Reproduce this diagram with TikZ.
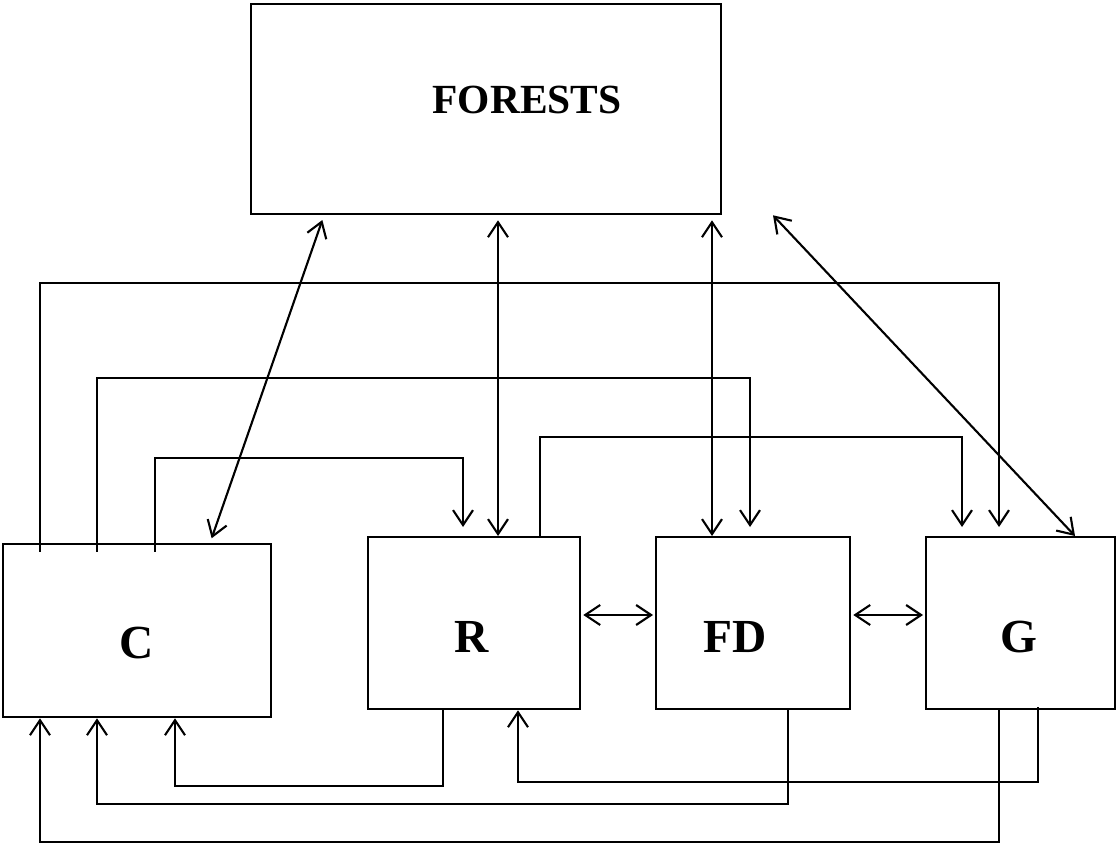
\documentclass[tikz,border=0pt]{standalone}
\usepackage{fontspec}
\setmainfont{Liberation Serif}
\usetikzlibrary{arrows.meta}

\tikzset{
  box/.style 2 args={draw, line width=1.3pt, inner sep=0pt, anchor=north west,
    minimum width=#1*0.02cm, minimum height=#2*0.02cm},
  lbl/.style={font=\fontsize{23.6}{28}\selectfont\bfseries},
  boxlbl/.style={font=\fontsize{27}{32}\selectfont\bfseries},
  link/.style={line width=1.2pt, -{Straight Barb[length=0.3cm, width=0.4cm]}},
  both/.style={line width=1.2pt, {Straight Barb[length=0.3cm, width=0.4cm]}-{Straight Barb[length=0.3cm, width=0.4cm]}}
}

\begin{document}
\begin{tikzpicture}[x=0.02cm, y=-0.02cm]
  \useasboundingbox (0,0) rectangle (1116,844);

  % Draw the boxes
  \node[box={470}{210}] (forests) at (250,3) {};
  \node[box={268}{173}] (c) at (2,543) {};
  \node[box={212}{172}] (r) at (367,536) {};
  \node[box={194}{172}] (fd) at (655,536) {};
  \node[box={189}{172}] (g) at (925,536) {};

  \node[lbl] (forestslabel) at (527,100) {FORESTS};
  \node[boxlbl] (clabel) at (137,643) {C};
  \node[boxlbl] (rlabel) at (472,637) {R};
  \node[boxlbl] (fdlabel) at (735,637) {FD};
  \node[boxlbl] (glabel) at (1019,637) {G};

  % Draw the links from FORESTS
  \draw[both, shorten <=0.1cm, shorten >=0.1cm] (forests.south -| 324,0) -- (c.north -| 210,0);
  \draw[both, shorten <=0.1cm] (forests.south -| 498,0) -- (r.north -| 498,0);
  \draw[both, shorten <=0.1cm] (forests.south -| 712,0) -- (fd.north -| 712,0);
  \draw[both] (forests.south -| 773,0) -- (g.north -| 1075,0);

  % Draw the links over the top
  \draw[link, shorten <=-0.18cm, shorten >=0.18cm] (c.north -| 40,0) -- (40,283) -| (g.north -| 999,0);
  \draw[link, shorten <=-0.18cm, shorten >=0.18cm] (c.north -| 97,0) -- (97,378) -| (fd.north -| 750,0);
  \draw[link, shorten <=-0.18cm, shorten >=0.18cm] (c.north -| 155,0) -- (155,458) -| (r.north -| 463,0);
  \draw[link, shorten >=0.18cm] (r.north -| 540,0) -- (540,437) -| (g.north -| 962,0);

  % Draw the side links
  \draw[both, shorten <=0.04cm, shorten >=0.04cm] (r.east |- 0,615) -- (fd.west |- 0,615);
  \draw[both, shorten <=0.04cm, shorten >=0.04cm] (fd.east |- 0,615) -- (g.west |- 0,615);

  % Draw the links underneath
  \draw[link] (r.south -| 443,0) -- (443,786) -| (c.south -| 175,0);
  \draw[link] (fd.south -| 788,0) -- (788,804) -| (c.south -| 97,0);
  \draw[link, shorten <=-0.06cm] (g.south -| 1038,0) -- (1038,782) -| (r.south -| 518,0);
  \draw[link] (g.south -| 999,0) -- (999,842) -| (c.south -| 40,0);
\end{tikzpicture}
\end{document}
